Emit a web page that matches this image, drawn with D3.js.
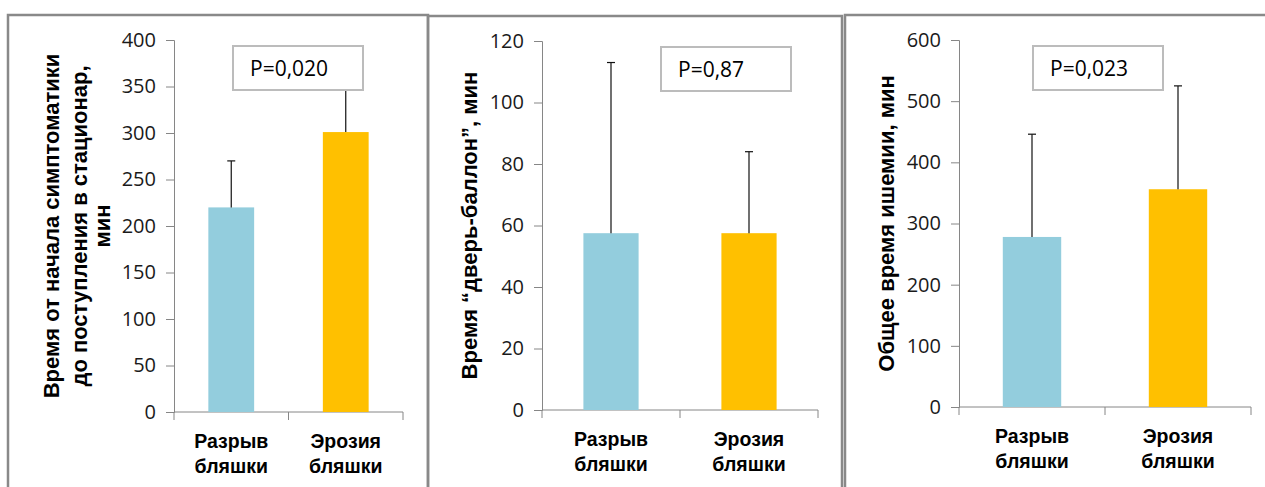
<!DOCTYPE html>
<html lang="ru">
<head>
    <meta charset="UTF-8">
    <title>Время ишемии: разрыв vs эрозия бляшки</title>
    <script src="https://d3js.org/d3.v7.min.js"></script>
    <style>
        body { margin: 0; background: #fff; }
        .tick text { font-family: "Open Sans", sans-serif; font-size: 20px; fill: #1a1a1a; }
        .ytitle, .xlab { font-family: "Liberation Sans", Arial, sans-serif; font-weight: bold; fill: #000; }
        .pval { font-family: "Open Sans", sans-serif; font-size: 21px; fill: #000; }
    </style>
</head>
<body>
<svg id="chart" width="1265" height="487"></svg>
<script>
    // category labels (two lines each)
    const categories = [["Разрыв", "бляшки"], ["Эрозия", "бляшки"]];
    const barColors = ["#93cddd", "#ffc000"];

    // series values: bar means and top of error bars
    const symptomToAdmission = [220, 301];
    const symptomToAdmissionErr = [270, 390];
    const doorToBalloon = [57.5, 57.5];
    const doorToBalloonErr = [113, 84];
    const totalIschemia = [278, 356];
    const totalIschemiaErr = [446, 525];

    // axis setup
    const yMaxes = [400, 120, 600];
    const yTicks = [d3.range(0, 401, 50), d3.range(0, 121, 20), d3.range(0, 601, 100)];
    const pLabels = ["P=0,020", "P=0,87", "P=0,023"];
    const yTitles = [
        ["Время от начала симптоматики", "до поступления в стационар,", "мин"],
        ["Время “дверь-баллон”, мин"],
        ["Общее время ишемии, мин"]
    ];

    const values = [symptomToAdmission, doorToBalloon, totalIschemia];
    const errors = [symptomToAdmissionErr, doorToBalloonErr, totalIschemiaErr];

    // layout of each panel (frame + plot area + p-value box)
    const panels = [
        { fx0: 8,   fx1: 428,  fy: 15, x0: 174, x1: 403,  y0: 412, y1: 40, box: 59,  titleX: [-122, -94, -71] },
        { fx0: 428, fx1: 842,  fy: 16, x0: 542, x1: 818,  y0: 410, y1: 41, box: 119, titleX: [-72] },
        { fx0: 845, fx1: 1290, fy: 15, x0: 959, x1: 1251, y0: 407, y1: 40, box: 74,  titleX: [-72] }
    ];

    const svg = d3.select("#chart");
    const axisColor = "#868686";

    panels.forEach((p, i) => {
        // frame
        svg.append("path")
            .attr("d", `M${p.fx0},500 V${p.fy} H${p.fx1} V500`)
            .attr("fill", "none")
            .attr("stroke", "#898989")
            .attr("stroke-width", 2.5);

        const x = d3.scaleBand().domain([0, 1]).range([p.x0, p.x1]);
        const y = d3.scaleLinear().domain([0, yMaxes[i]]).range([p.y0, p.y1]);
        const g = svg.append("g");

        // y axis
        const yAxis = g.append("g")
            .attr("transform", `translate(${p.x0},0)`)
            .call(d3.axisLeft(y).tickValues(yTicks[i]).tickSize(8).tickPadding(10));
        yAxis.selectAll("line, path").attr("stroke", axisColor);

        // x axis with ticks at band edges
        g.append("line")
            .attr("x1", p.x0).attr("x2", p.x1)
            .attr("y1", p.y0).attr("y2", p.y0)
            .attr("stroke", axisColor);
        [p.x0, p.x0 + x.bandwidth(), p.x1].forEach(tx => {
            g.append("line")
                .attr("x1", tx).attr("x2", tx)
                .attr("y1", p.y0).attr("y2", p.y0 + 8)
                .attr("stroke", axisColor);
        });

        const bw = x.bandwidth() * 0.4;
        values[i].forEach((v, k) => {
            const cx = x(k) + x.bandwidth() / 2;
            g.append("rect")
                .attr("x", cx - bw / 2)
                .attr("y", y(v))
                .attr("width", bw)
                .attr("height", y(0) - y(v))
                .attr("fill", barColors[k]);
            // error bar
            g.append("line")
                .attr("x1", cx).attr("x2", cx)
                .attr("y1", y(v)).attr("y2", y(errors[i][k]))
                .attr("stroke", "#111").attr("stroke-width", 1.2);
            g.append("line")
                .attr("x1", cx - 4).attr("x2", cx + 4)
                .attr("y1", y(errors[i][k])).attr("y2", y(errors[i][k]))
                .attr("stroke", "#111").attr("stroke-width", 1.2);

            // category label
            categories[k].forEach((line, li) => {
                g.append("text")
                    .attr("class", "xlab")
                    .attr("x", cx)
                    .attr("y", p.y0 + 36 + li * 25)
                    .attr("text-anchor", "middle")
                    .attr("font-size", "19.5px")
                    .text(line);
            });
        });

        // p-value box
        const bx = p.x0 + p.box, by = p.fy + 31;
        g.append("rect")
            .attr("x", bx).attr("y", by)
            .attr("width", 130).attr("height", 44)
            .attr("fill", "#fff")
            .attr("stroke", "#bcbcbc")
            .attr("stroke-width", 2);
        g.append("text")
            .attr("class", "pval")
            .attr("x", bx + 17)
            .attr("y", by + 30)
            .text(pLabels[i]);

        // y title (rotated)
        const cy = (p.y0 + p.y1) / 2;
        yTitles[i].forEach((line, li) => {
            const tx = p.x0 + p.titleX[li] + 7;
            g.append("text")
                .attr("class", "ytitle")
                .attr("transform", `translate(${tx},${cy}) rotate(-90)`)
                .attr("text-anchor", "middle")
                .attr("font-size", "22px")
                .text(line);
        });
    });
</script>
</body>
</html>
